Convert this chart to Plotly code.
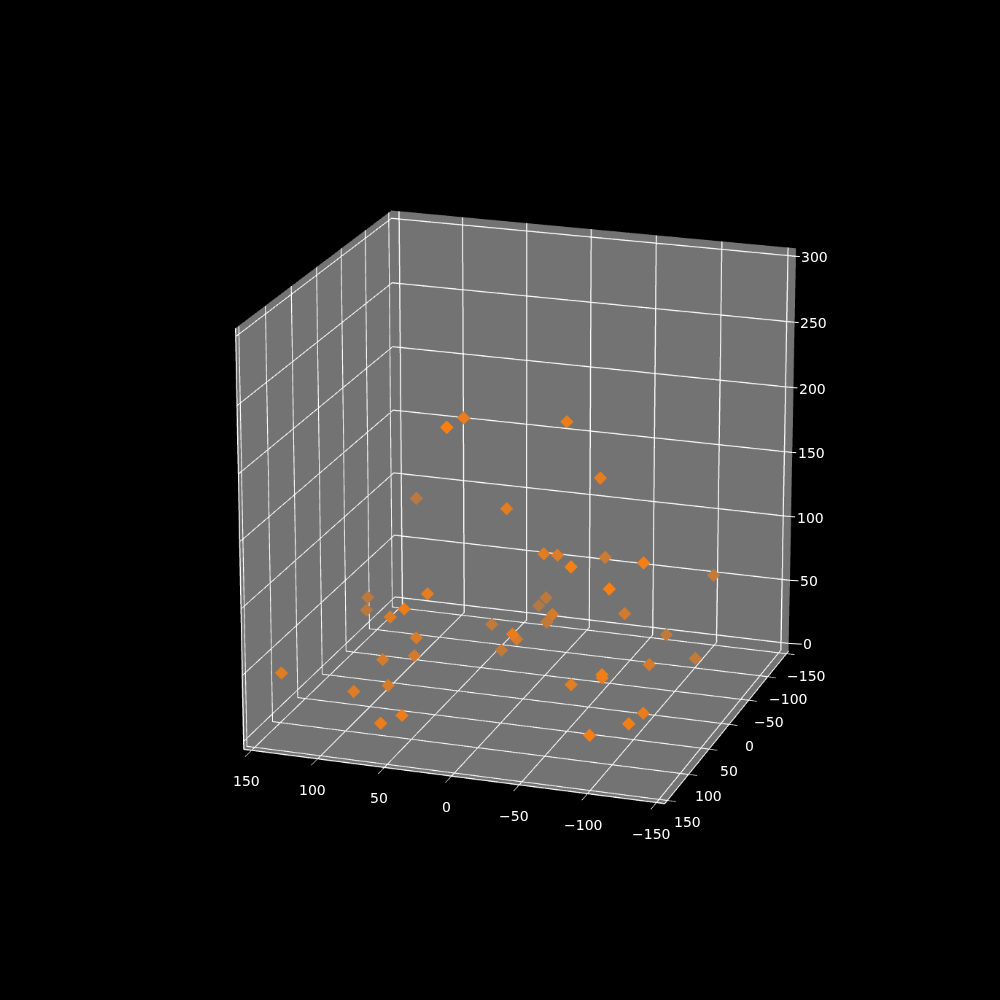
"""Dark 3D scatter of diamond markers on grey panes."""

import numpy as np
import plotly.graph_objects as go

x_vals = [19, 34, -38, -58, 121, 7, -21, -26, -37, -67, -110, -106, -95, 51, 143, 144, 57, 85, 19, 35, -17, 8, -62, 51, -75, -13, 5, 71, 38, 78, 97, -102, -86, 151, 87, 102, -52, -85, -80, -106, 48, 64, -110, -86]
y_vals = [109, 31, 16, 0, -109, 16, 16, 0, -78, 94, 62, -125, 94, 62, -62, -62, 94, 47, -109, -140, -16, -78, -47, -78, -109, 62, 0, 31, -62, 16, 31, -94, -31, 94, 47, 78, 47, 78, 62, 47, 125, 125, 94, 109]
z_vals = [234, 215, 215, 170, 99, 145, 114, 108, 81, 136, 133, 59, 123, 91, 34, 24, 90, 64, 32, 13, 56, 25, 51, 18, 14, 68, 40, 44, 5, 24, 24, 4, 20, 30, 11, 16, 29, 52, 43, 14, 22, 14, 24, 18]
xy_ticks = [-150, -100, -50, 0, 50, 100, 150]
z_ticks = [0, 50, 100, 150, 200, 250, 300]

AZIM = np.deg2rad(18.7)
ELEV = np.deg2rad(19.1)
EYE_DIST = 11.64
XY_LIM = 156
Z_LO = -6
Z_HI = 306
PANE = (115, 115, 115)
ORANGE = (255, 127, 14)
LABEL_FONT = dict(family="DejaVu Sans", size=14, color="white")
# plotly's field of view is fixed, so a flatter perspective needs a larger canvas
# (at this size the webgl layer also scales its px sizes up by about 1.42)
CANVAS = 4200
LEFT = -1577
TOP = -1604


def depth_colors(x, y, z):
    """Fade far points into the pane colour, like a depth-shaded scatter."""
    depth = -np.sin(AZIM) * np.asarray(x) + np.cos(AZIM) * np.asarray(y) + np.tan(ELEV) * np.asarray(z)
    norm = (depth - depth.min()) / (depth.max() - depth.min())
    alpha = 0.45 + 0.55 * norm
    return [
        "rgb({:.0f},{:.0f},{:.0f})".format(*(a * c + (1 - a) * p for c, p in zip(ORANGE, PANE)))
        for a in alpha
    ]


def axis_style(lo, hi, ticklen):
    return dict(
        range=[lo, hi],
        tick0=0,
        dtick=50,
        title=dict(text=""),
        showbackground=True,
        backgroundcolor="rgb(115,115,115)",
        showgrid=True,
        gridcolor="white",
        gridwidth=1.5,
        zeroline=False,
        showline=True,
        linecolor="white",
        linewidth=1.5,
        ticks="outside",
        ticklen=ticklen,
        tickcolor="white",
        showticklabels=False,
        showspikes=False,
    )


def tick_label(val, **kwargs):
    """Tick label placed as a scene annotation, with plotly's minus sign."""
    return dict(
        text=str(val).replace("-", "\u2212"),
        xanchor="center",
        yanchor="middle",
        font=LABEL_FONT,
        **kwargs,
    )


fig = go.Figure(
    data=[
        go.Scatter3d(
            x=x_vals,
            y=y_vals,
            z=z_vals,
            mode="markers",
            marker=dict(symbol="diamond", size=3, color=depth_colors(x_vals, y_vals, z_vals), line=dict(width=0)),
        )
    ]
)

# gl3d label placement cannot be steered, so all tick labels go on as annotations
x_labels = [
    tick_label(val, x=val, y=XY_LIM, z=Z_LO, showarrow=False, xshift=-5, yshift=-31)
    for val in xy_ticks
]
y_labels = [
    tick_label(val, x=-XY_LIM, y=val, z=Z_LO, showarrow=False, xshift=20, yshift=-22)
    for val in xy_ticks
]
z_labels = [
    tick_label(
        val,
        x=-XY_LIM,
        y=-XY_LIM,
        z=val,
        showarrow=True,
        arrowhead=0,
        arrowwidth=1,
        arrowcolor="white",
        ax=19,
        ay=1,
    )
    for val in z_ticks
]

z_axis = axis_style(Z_LO, Z_HI, 0)
z_axis.update(ticks="")

fig.update_layout(
    width=CANVAS,
    height=CANVAS,
    margin=dict(l=0, r=0, t=0, b=0),
    paper_bgcolor="black",
    showlegend=False,
    scene=dict(
        domain=dict(x=[0, 1], y=[0, 1]),
        bgcolor="black",
        aspectmode="manual",
        aspectratio=dict(x=1, y=1, z=1),
        xaxis=axis_style(-XY_LIM, XY_LIM, 5),
        yaxis=axis_style(-XY_LIM, XY_LIM, 10),
        zaxis=z_axis,
        annotations=x_labels + y_labels + z_labels,
        camera=dict(
            projection=dict(type="perspective"),
            up=dict(x=0, y=0, z=1),
            center=dict(x=0, y=0, z=0),
            eye=dict(
                x=-EYE_DIST * np.cos(ELEV) * np.sin(AZIM),
                y=EYE_DIST * np.cos(ELEV) * np.cos(AZIM),
                z=EYE_DIST * np.sin(ELEV),
            ),
        ),
    ),
)

place_canvas = (
    "var b=document.body;b.style.margin='0';b.style.background='black';b.style.overflow='hidden';"
    "var g=document.getElementsByClassName('plotly-graph-div')[0];"
    f"g.style.position='absolute';g.style.left='{LEFT}px';g.style.top='{TOP}px';"
)
fig.write_html("out.html", config={"displayModeBar": False}, post_script=place_canvas)
